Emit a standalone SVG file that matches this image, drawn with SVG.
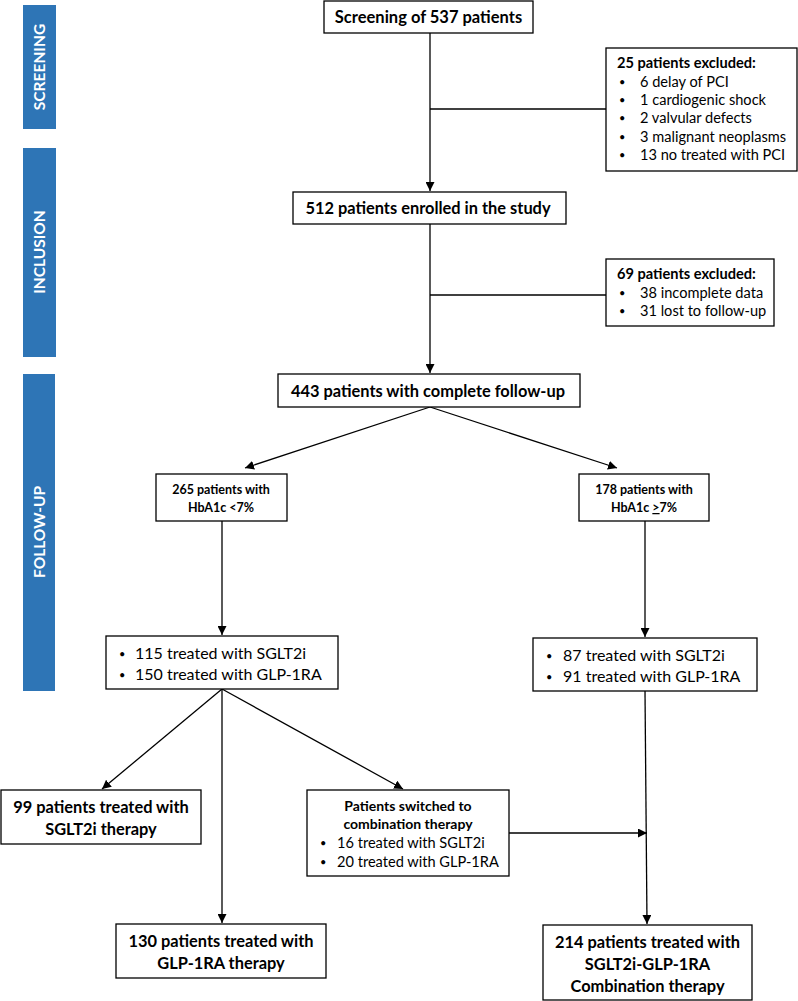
<svg xmlns="http://www.w3.org/2000/svg" width="798" height="1001" viewBox="0 0 798 1001">
<defs>
<marker id="ah" viewBox="0 0 10 10" refX="10" refY="5" markerWidth="9" markerHeight="9" markerUnits="userSpaceOnUse" orient="auto">
<path d="M0,0 L10,5 L0,10 z" fill="#000"/>
</marker>
</defs>
<style>
.box{fill:#fff;stroke:#000;stroke-width:1.3}
.bar{fill:#2E75B6}
.bl{font-family:Lato,"Liberation Sans",sans-serif;font-weight:bold;fill:#fff;font-size:15.5px}
.t{font-family:Lato,"Liberation Sans",sans-serif;fill:#000}
.b{font-weight:bold}
.c{text-anchor:middle}
.ln{stroke:#000;stroke-width:1.3;fill:none}
.ar{marker-end:url(#ah)}
.bu{font-size:11px}
</style>
<rect width="798" height="1001" fill="#fff"/>
<g id="phases">
<rect class="bar" x="23" y="5" width="33" height="124"/>
<text class="bl c" transform="translate(45,67) rotate(-90)">SCREENING</text>
<rect class="bar" x="23" y="148" width="33" height="209"/>
<text class="bl c" transform="translate(45,252) rotate(-90)">INCLUSION</text>
<rect class="bar" x="23" y="374" width="32" height="317"/>
<text class="bl c" transform="translate(45,532) rotate(-90)">FOLLOW-UP</text>
</g>
<g id="connectors">
<line class="ln ar" x1="430" y1="33" x2="430" y2="191"/>
<line class="ln" x1="430" y1="109" x2="606" y2="109"/>
<line class="ln ar" x1="430" y1="224" x2="430" y2="373"/>
<line class="ln" x1="430" y1="295" x2="606" y2="295"/>
<line class="ln ar" x1="430" y1="407" x2="245" y2="468"/>
<line class="ln ar" x1="430" y1="407" x2="617" y2="468"/>
<line class="ln ar" x1="222" y1="521" x2="222" y2="635"/>
<line class="ln ar" x1="645" y1="521" x2="645" y2="637"/>
<line class="ln ar" x1="222" y1="689" x2="102" y2="789"/>
<line class="ln ar" x1="222" y1="689" x2="222" y2="923"/>
<line class="ln ar" x1="222" y1="689" x2="403" y2="789"/>
<line class="ln ar" x1="645" y1="691" x2="647" y2="924"/>
<line class="ln ar" x1="509" y1="833" x2="647" y2="833"/>
</g>
<g id="screening">
<rect class="box" x="324" y="1" width="209" height="32"/>
<text class="t b c" x="428.5" y="23" font-size="16.5">Screening of 537 patients</text>
</g>
<g id="excluded1">
<rect class="box" x="606" y="48" width="191" height="123"/>
<text class="t b" x="617" y="68" font-size="14.6">25 patients excluded:</text>
<g class="t" font-size="14.6">
<text class="bu" x="619" y="86">•</text><text x="640" y="87">6 delay of PCI</text>
<text class="bu" x="619" y="104">•</text><text x="640" y="105">1 cardiogenic shock</text>
<text class="bu" x="619" y="122">•</text><text x="640" y="123">2 valvular defects</text>
<text class="bu" x="619" y="141">•</text><text x="640" y="142">3 malignant neoplasms</text>
<text class="bu" x="619" y="159">•</text><text x="640" y="160">13 no treated with PCI</text>
</g>
</g>
<g id="enrolled">
<rect class="box" x="293" y="192" width="273" height="32"/>
<text class="t b c" x="428" y="214" font-size="16.4">512 patients enrolled in the study</text>
</g>
<g id="excluded2">
<rect class="box" x="606" y="259" width="168" height="67"/>
<text class="t b" x="617" y="279" font-size="14.6">69 patients excluded:</text>
<g class="t" font-size="14.6">
<text class="bu" x="619" y="297">•</text><text x="640" y="298">38 incomplete data</text>
<text class="bu" x="619" y="315">•</text><text x="640" y="316">31 lost to follow-up</text>
</g>
</g>
<g id="complete">
<rect class="box" x="278" y="374" width="302" height="33"/>
<text class="t b c" x="428" y="397" font-size="16.4">443 patients with complete follow-up</text>
</g>
<g id="hba1c-low">
<rect class="box" x="156" y="474" width="131" height="47"/>
<text class="t b c" x="221" y="494" font-size="12.5">265 patients with</text>
<text class="t b c" x="221" y="512" font-size="12.5">HbA1c &lt;7%</text>
</g>
<g id="hba1c-high">
<rect class="box" x="579" y="474" width="130" height="47"/>
<text class="t b c" x="644" y="494" font-size="12.5">178 patients with</text>
<text class="t b c" x="644" y="512" font-size="12.5">HbA1c <tspan text-decoration="underline">&gt;</tspan>7%</text>
</g>
<g id="treated-low">
<rect class="box" x="106" y="636" width="232" height="53"/>
<g class="t" font-size="16">
<text class="bu" x="119" y="658">•</text><text x="135" y="659">115 treated with SGLT2i</text>
<text class="bu" x="119" y="679">•</text><text x="135" y="680">150 treated with GLP-1RA</text>
</g>
</g>
<g id="treated-high">
<rect class="box" x="533" y="638" width="224" height="53"/>
<g class="t" font-size="16">
<text class="bu" x="546" y="660">•</text><text x="563" y="661">87 treated with SGLT2i</text>
<text class="bu" x="546" y="681">•</text><text x="563" y="682">91 treated with GLP-1RA</text>
</g>
</g>
<g id="sglt2i">
<rect class="box" x="1" y="790" width="200" height="54"/>
<text class="t b c" x="101" y="813" font-size="16.4">99 patients treated with</text>
<text class="t b c" x="101" y="835" font-size="16.4">SGLT2i therapy</text>
</g>
<g id="glp1">
<rect class="box" x="116" y="924" width="210" height="54"/>
<text class="t b c" x="221" y="947" font-size="16.4">130 patients treated with</text>
<text class="t b c" x="221" y="969" font-size="16.4">GLP-1RA therapy</text>
</g>
<g id="switched">
<rect class="box" x="307" y="790" width="202" height="86"/>
<text class="t b c" x="408" y="811" font-size="14">Patients switched to</text>
<text class="t b c" x="408" y="829" font-size="14">combination therapy</text>
<g class="t" font-size="14.6">
<text class="bu" x="320" y="847">•</text><text x="337" y="848">16 treated with SGLT2i</text>
<text class="bu" x="320" y="866">•</text><text x="337" y="867">20 treated with GLP-1RA</text>
</g>
</g>
<g id="combination">
<rect class="box" x="543" y="925" width="209" height="75"/>
<text class="t b c" x="647.5" y="948" font-size="16.4">214 patients treated with</text>
<text class="t b c" x="647.5" y="970" font-size="16.4">SGLT2i-GLP-1RA</text>
<text class="t b c" x="647.5" y="992" font-size="16.4">Combination therapy</text>
</g>
</svg>
